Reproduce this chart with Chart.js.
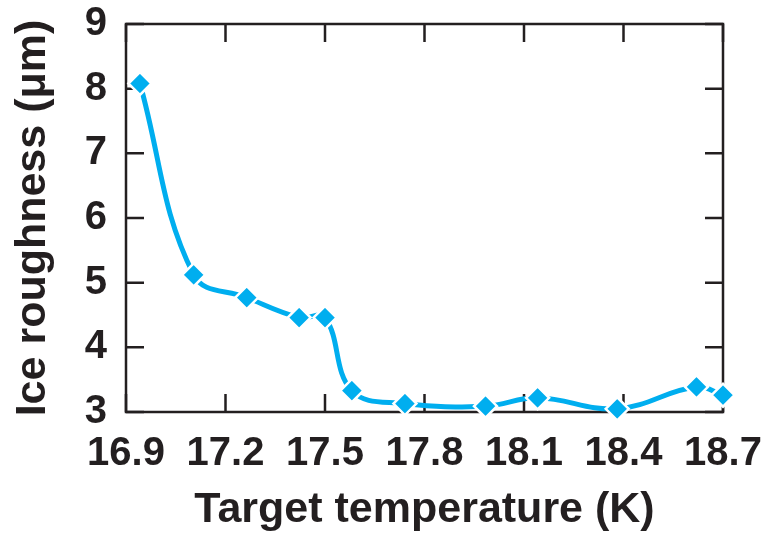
<!DOCTYPE html>
<html>
<head>
<meta charset="utf-8">
<script src="https://cdn.jsdelivr.net/npm/chart.js@4.4.1/dist/chart.umd.min.js"></script>
<style>
  html, body { margin: 0; padding: 0; background: #ffffff; }
  #wrap { width: 765px; height: 536px; }
</style>
</head>
<body>
<div id="wrap"><canvas id="c" width="765" height="536"></canvas></div>
<script>
// Data
const temperatures = [16.942, 17.104, 17.264, 17.422, 17.50, 17.581, 17.741, 17.984, 18.141, 18.381, 18.62, 18.70];
const roughness    = [8.08, 5.12, 4.77, 4.46, 4.46, 3.33, 3.13, 3.09, 3.22, 3.05, 3.39, 3.26];
const xTickValues  = [16.9, 17.2, 17.5, 17.8, 18.1, 18.4, 18.7];
const yTickValues  = [3, 4, 5, 6, 7, 8, 9];

const xTitle = 'Target temperature (K)';
const yTitle = 'Ice roughness (\u03BCm)';

const INK = '#231F20';
const BLUE = '#00AEEF';
const FONT = "'Liberation Sans', Arial, Helvetica, sans-serif";

const points = temperatures.map((t, i) => ({ x: t, y: roughness[i] }));

const framePlugin = {
  id: 'frame',
  beforeDatasetsDraw(chart) {
    const { ctx, chartArea, scales } = chart;
    const { left, right, top, bottom } = chartArea;
    const L = 18;
    ctx.save();
    ctx.strokeStyle = INK;
    ctx.lineWidth = 2.5;
    ctx.lineCap = 'butt';
    ctx.beginPath();
    scales.x.ticks.forEach(t => {
      const px = scales.x.getPixelForValue(t.value);
      ctx.moveTo(px, bottom); ctx.lineTo(px, bottom - L);
      ctx.moveTo(px, top); ctx.lineTo(px, top + L);
    });
    scales.y.ticks.forEach(t => {
      const py = scales.y.getPixelForValue(t.value);
      ctx.moveTo(left, py); ctx.lineTo(left + L, py);
      ctx.moveTo(right, py); ctx.lineTo(right - L, py);
    });
    ctx.stroke();
    ctx.lineJoin = 'miter';
    ctx.strokeRect(left, top, right - left, bottom - top);
    ctx.restore();
  }
};

new Chart(document.getElementById('c'), {
  type: 'scatter',
  data: {
    datasets: [{
      data: points,
      showLine: true,
      tension: 0.4,
      borderColor: BLUE,
      borderWidth: 5,
      pointStyle: 'rectRot',
      pointRadius: 11.5,
      pointBackgroundColor: BLUE,
      pointBorderColor: '#ffffff',
      pointBorderWidth: 2.5,
      clip: false
    }]
  },
  options: {
    responsive: false,
    animation: false,
    events: [],
    layout: { padding: { top: 24, right: 42, left: 0, bottom: 0 } },
    plugins: { legend: { display: false }, tooltip: { enabled: false } },
    scales: {
      x: {
        type: 'linear',
        min: 16.9, max: 18.7,
        afterBuildTicks: s => { s.ticks = xTickValues.map(v => ({ value: v })); },
        afterFit: s => { s.height = 124; s.paddingLeft = 0; s.paddingRight = 0; },
        grid: { display: false, drawTicks: false },
        border: { display: false },
        ticks: {
          color: INK,
          font: { family: FONT, size: 40, weight: 'bold' },
          padding: 18,
          maxRotation: 0,
          autoSkip: false,
          callback: v => Number(v).toFixed(1)
        },
        title: {
          display: true,
          text: xTitle,
          color: INK,
          font: { family: FONT, size: 43, weight: 'bold', lineHeight: 1.2 },
          padding: { top: 0, bottom: 0 }
        }
      },
      y: {
        type: 'linear',
        min: 3, max: 9,
        afterBuildTicks: s => { s.ticks = yTickValues.map(v => ({ value: v })); },
        afterFit: s => { s.width = 126; s.paddingTop = 0; s.paddingBottom = 0; },
        grid: { display: false, drawTicks: false },
        border: { display: false },
        ticks: {
          color: INK,
          font: { family: FONT, size: 40, weight: 'bold' },
          padding: 19,
          callback: v => String(v)
        },
        title: {
          display: true,
          text: yTitle,
          color: INK,
          font: { family: FONT, size: 43, weight: 'bold', lineHeight: 1.2 },
          padding: { top: 7, bottom: 0 }
        }
      }
    }
  },
  plugins: [framePlugin]
});
</script>
</body>
</html>
